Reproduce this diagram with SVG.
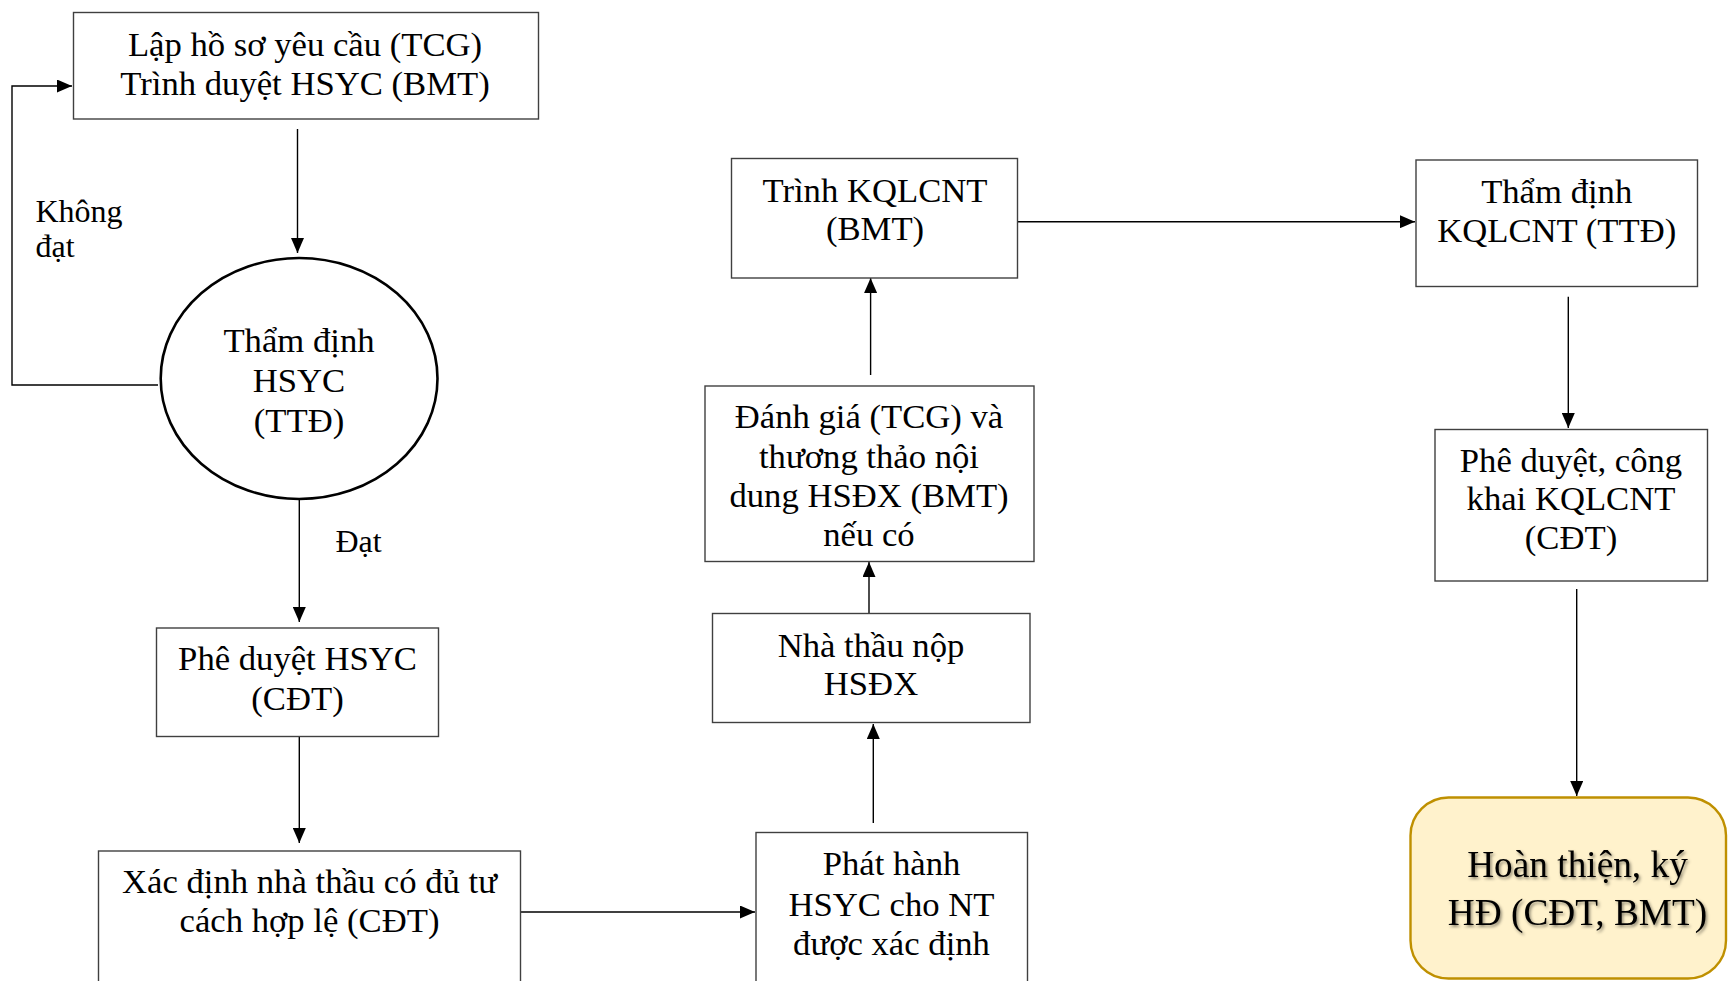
<svg xmlns="http://www.w3.org/2000/svg" width="1728" height="981" viewBox="0 0 1728 981">
<style>
.box{fill:#fff;stroke:#404040;stroke-width:1.4}
.t{font-family:"Liberation Serif","Times New Roman",serif;font-size:34.67px;fill:#000;text-anchor:middle}
.lbl{font-family:"Liberation Serif","Times New Roman",serif;font-size:32px;fill:#000}
.c{fill:none;stroke:#000;stroke-width:1.4}
.fin{font-family:"Liberation Serif","Times New Roman",serif;font-size:37.3px;fill:#000;text-anchor:middle}
</style>
<defs>
<marker id="ah" markerUnits="userSpaceOnUse" markerWidth="15" markerHeight="13" refX="15" refY="6.5" orient="auto">
<path d="M0,0 L15,6.5 L0,13 z" fill="#000"/>
</marker>
<filter id="sh" x="-10%" y="-30%" width="120%" height="160%">
<feDropShadow dx="1.5" dy="2" stdDeviation="1.5" flood-color="#000" flood-opacity="0.45"/>
</filter>
</defs>

<g id="connectors">
<line class="c" x1="297.5" y1="129" x2="297.5" y2="253" marker-end="url(#ah)"/>
<polyline class="c" points="158,385 12,385 12,86 72,86" marker-end="url(#ah)"/>
<line class="c" x1="299.3" y1="499" x2="299.3" y2="622" marker-end="url(#ah)"/>
<line class="c" x1="299.3" y1="737" x2="299.3" y2="843" marker-end="url(#ah)"/>
<line class="c" x1="520.5" y1="912" x2="755" y2="912" marker-end="url(#ah)"/>
<line class="c" x1="873.3" y1="823" x2="873.3" y2="724" marker-end="url(#ah)"/>
<line class="c" x1="869" y1="613" x2="869" y2="562" marker-end="url(#ah)"/>
<line class="c" x1="870.6" y1="375" x2="870.6" y2="278" marker-end="url(#ah)"/>
<line class="c" x1="1018" y1="221.7" x2="1415" y2="221.7" marker-end="url(#ah)"/>
<line class="c" x1="1568.3" y1="296.7" x2="1568.3" y2="428" marker-end="url(#ah)"/>
<line class="c" x1="1576.7" y1="589" x2="1576.7" y2="796" marker-end="url(#ah)"/>
</g>

<g id="lbl-khongdat">
<text class="lbl" x="35.5" y="221.5">Không</text>
<text class="lbl" x="35.5" y="257">đạt</text>
</g>
<g id="lbl-dat">
<text class="lbl" x="335.5" y="551.5">Đạt</text>
</g>

<g id="n1">
<rect class="box" x="73.5" y="12.5" width="465" height="106.5"/>
<text class="t" x="305" y="56">Lập hồ sơ yêu cầu (TCG)</text>
<text class="t" x="305" y="94.5">Trình duyệt HSYC (BMT)</text>
</g>

<g id="n2">
<ellipse cx="299.1" cy="378.5" rx="138.4" ry="120.5" fill="#fff" stroke="#000" stroke-width="2.6"/>
<text class="t" x="299" y="351.5">Thẩm định</text>
<text class="t" x="299" y="391.5">HSYC</text>
<text class="t" x="299" y="431.5">(TTĐ)</text>
</g>

<g id="n3">
<rect class="box" x="156.5" y="628" width="282" height="108.5"/>
<text class="t" x="297.5" y="670">Phê duyệt HSYC</text>
<text class="t" x="297.5" y="710">(CĐT)</text>
</g>

<g id="n4">
<rect class="box" x="98.5" y="851" width="422" height="140"/>
<text class="t" x="309.5" y="893">Xác định nhà thầu có đủ tư</text>
<text class="t" x="309.5" y="932">cách hợp lệ (CĐT)</text>
</g>

<g id="n5">
<rect class="box" x="756" y="832.5" width="271.5" height="160"/>
<text class="t" x="891.5" y="875">Phát hành</text>
<text class="t" x="891.5" y="915.5">HSYC cho NT</text>
<text class="t" x="891.5" y="955">được xác định</text>
</g>

<g id="n6">
<rect class="box" x="712.5" y="613.5" width="317.5" height="109"/>
<text class="t" x="871" y="656.5">Nhà thầu nộp</text>
<text class="t" x="871" y="695">HSĐX</text>
</g>

<g id="n7">
<rect class="box" x="705" y="386" width="329" height="175.5"/>
<text class="t" x="869" y="428.3">Đánh giá (TCG) và</text>
<text class="t" x="869" y="467.8">thương thảo nội</text>
<text class="t" x="869" y="506.7">dung HSĐX (BMT)</text>
<text class="t" x="869" y="546.2">nếu có</text>
</g>

<g id="n8">
<rect class="box" x="731.5" y="158.5" width="286" height="119.5"/>
<text class="t" x="875" y="201.7">Trình KQLCNT</text>
<text class="t" x="875" y="240">(BMT)</text>
</g>

<g id="n9">
<rect class="box" x="1416" y="160" width="281.5" height="126.5"/>
<text class="t" x="1556.7" y="203.3">Thẩm định</text>
<text class="t" x="1556.7" y="241.7">KQLCNT (TTĐ)</text>
</g>

<g id="n10">
<rect class="box" x="1435" y="429.5" width="272.5" height="151.5"/>
<text class="t" x="1571" y="471.5">Phê duyệt, công</text>
<text class="t" x="1571" y="510">khai KQLCNT</text>
<text class="t" x="1571" y="548.5">(CĐT)</text>
</g>

<g id="n11">
<rect x="1410.5" y="797.5" width="315.5" height="181" rx="38" ry="38" fill="#FFF2CC" stroke="#BF9000" stroke-width="2.4"/>
<g filter="url(#sh)">
<text class="fin" x="1577.5" y="876.5">Hoàn thiện, ký</text>
<text class="fin" x="1577.5" y="925">HĐ (CĐT, BMT)</text>
</g>
</g>
</svg>
